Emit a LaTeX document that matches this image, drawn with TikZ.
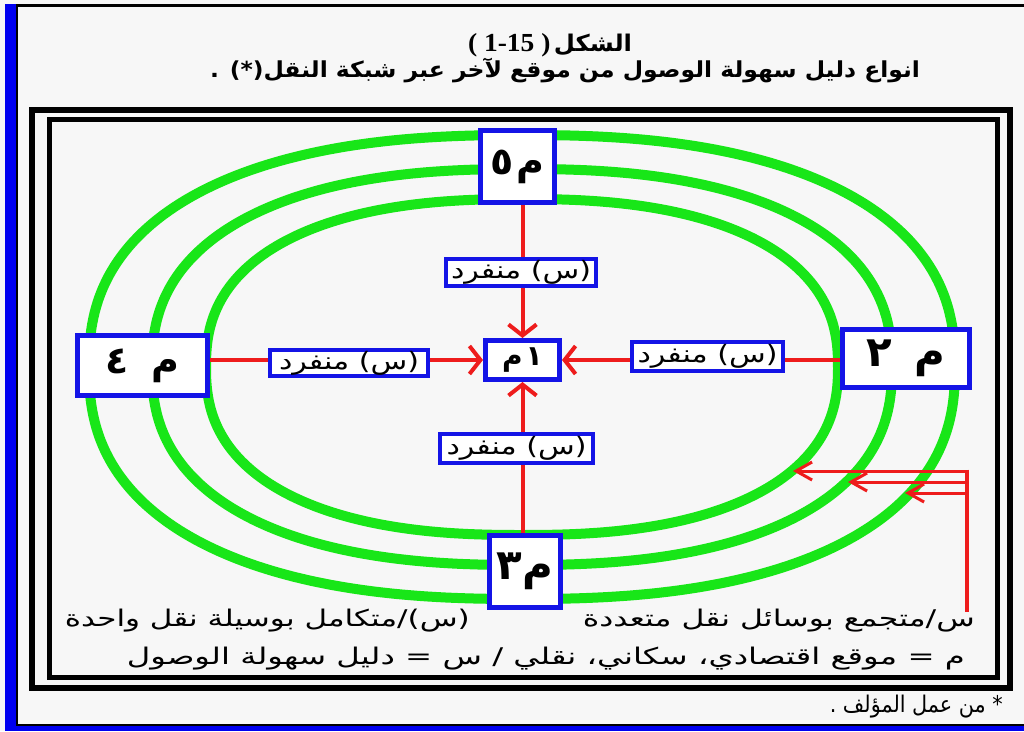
\documentclass[tikz,border=0pt]{standalone}
\usepackage{fontspec}
\usepackage{graphicx}
\TeXXeTstate=1
\newfontfamily\arabicfont[Script=Arabic]{DejaVu Sans}
\newfontfamily\serifbold{Liberation Serif Bold}
\usetikzlibrary{arrows.meta}
\definecolor{bg}{HTML}{F7F7F7}
\definecolor{ringgreen}{HTML}{18E618}
\definecolor{boxblue}{HTML}{1414E6}
\definecolor{linered}{HTML}{EE1C1C}
\definecolor{barblue}{HTML}{0000F0}
\newcommand\wfit[2]{\resizebox{#1}{\height}{#2}}
\begin{document}
\begin{tikzpicture}[x=1pt,y=-1pt,
  ring/.style={draw=ringgreen, line width=10pt},
  site/.style={draw=boxblue, line width=5pt, fill=white, inner sep=0pt,
    font=\arabicfont\bfseries\fontsize{38}{42}\selectfont},
  lab/.style={draw=boxblue, line width=4.5pt, fill=white, inner sep=0pt,
    font=\arabicfont\fontsize{24}{28}\selectfont},
  edge/.style={draw=linered, line width=4pt},
  arr/.style={edge, -{Straight Barb[length=11pt,width=28pt]}},
  thinline/.style={draw=linered, line width=3pt},
  thinarr/.style={thinline, -{Straight Barb[length=16pt,width=18pt]}},
  txt/.style={inner sep=0pt, font=\arabicfont\fontsize{23}{27}\selectfont},
  frame/.style={draw=black, line width=6pt}
]
\useasboundingbox (0,0) rectangle (1024,731);
\fill[bg] (0,0) rectangle (1024,731);
% page edges
\fill[barblue] (5,4) rectangle (16,731);
\fill[black] (16,4) rectangle (1024,6.5);
\fill[black] (16,4) rectangle (18,726);
\fill[black] (16,723.5) rectangle (1024,726);
\fill[barblue] (16,726) rectangle (1024,731);
% frame
\draw[frame] (32,110) rectangle (1010,688);
\draw[frame, line width=5pt] (49,119.5) rectangle (997,677);

% titles
\node[inner sep=0pt, anchor=center] (t1) at (550,45)
  {\wfit{164pt}{{\serifbold\fontsize{26}{30}\selectfont ( 1-15 )} {\arabicfont\bfseries\fontsize{23}{27}\selectfont الشكل}}};
\node[inner sep=0pt, anchor=center] (t2) at (565,70)
  {\wfit{710pt}{\arabicfont\bfseries\fontsize{22}{26}\selectfont . \mbox{(*)}\beginR انواع دليل سهولة الوصول من موقع لآخر عبر شبكة النقل\endR}};

% rings (rounded ellipses)
\foreach \rx/\ry in {433/232, 370/198, 316/168}{
  \draw[ring] plot[smooth cycle, domain=1:358, samples=120, variable=\t]
    ({522+\rx*cos(\t)*abs(cos(\t))^(-0.16667)}, {367+\ry*sin(\t)*abs(sin(\t))^(-0.16667)});
}

% site nodes
\node[site, minimum width=74pt, minimum height=39pt, font=\arabicfont\bfseries\fontsize{28}{30}\selectfont] (m1) at (522.5,360) {م\hspace{3pt}١};
\node[site, minimum width=74pt, minimum height=72pt] (m5) at (517.5,166.5) {٥\hspace{2pt}م};
\node[site, minimum width=130pt, minimum height=60pt] (m4) at (142.5,365.5) {٤\hspace{22pt}م};
\node[site, minimum width=127pt, minimum height=58pt, font=\arabicfont\bfseries\fontsize{42}{46}\selectfont] (m2) at (906,358.5) {٢\hspace{22pt}م};
\node[site, minimum width=71pt, minimum height=72pt, font=\arabicfont\bfseries\fontsize{42}{46}\selectfont] (m3) at (525,571.5) {٣\hspace{1pt}م};

% label nodes
\node[lab, minimum width=150pt, minimum height=27pt] (l5) at (521,272.5) {\wfit{140pt}{\beginR(س) منفرد\endR}};
\node[lab, minimum width=158pt, minimum height=26pt] (l4) at (349,363) {\wfit{140pt}{\beginR(س) منفرد\endR}};
\node[lab, minimum width=151pt, minimum height=29pt] (l2) at (707.5,356.5) {\wfit{140pt}{\beginR(س) منفرد\endR}};
\node[lab, minimum width=153pt, minimum height=29pt] (l3) at (516.5,448.5) {\wfit{140pt}{\beginR(س) منفرد\endR}};

% connectors
\draw[edge] (m5.south -| m1.north) -- (l5.north -| m1.north);
\draw[arr] (l5.south -| m1.north) -- (m1.north);
\draw[edge] (m3.north -| m1.south) -- (l3.south -| m1.south);
\draw[arr] (l3.north -| m1.south) -- (m1.south);
\draw[edge] (m4.east |- m1.west) -- (l4.west |- m1.west);
\draw[arr] (l4.east |- m1.west) -- (m1.west);
\draw[edge] (m2.west |- m1.east) -- (l2.east |- m1.east);
\draw[arr] (l2.west |- m1.east) -- (m1.east);

% bracket arrows at right
\coordinate (vtop) at (967,469.5);
\coordinate (vbot) at (967,612);
\coordinate (a1) at (967,471);
\coordinate (a2) at (967,482);
\coordinate (a3) at (967,493);
\coordinate (tip1) at (793,471);
\coordinate (tip2) at (848,482);
\coordinate (tip3) at (905,493);
\draw[thinline, line width=3.5pt] (vtop) -- (vbot);
\draw[thinarr] (a1) -- (tip1);
\draw[thinarr] (a2) -- (tip2);
\draw[thinarr] (a3) -- (tip3);

% legend text
\node[txt, anchor=east] (k1) at (975,621) {\wfit{392pt}{\beginR س/متجمع بوسائل نقل متعددة\endR}};
\node[txt, anchor=east] (k2) at (470,621) {\wfit{405pt}{\beginR (س)/متكامل بوسيلة نقل واحدة\endR}};
\node[txt, anchor=east] (k3) at (965,659) {\wfit{838pt}{\beginR م = موقع اقتصادي، سكاني، نقلي / س = دليل سهولة الوصول\endR}};
\node[txt, anchor=east] (src) at (1003,707) {\wfit{173pt}{\beginR * من عمل المؤلف .\endR}};
\end{tikzpicture}
\end{document}
